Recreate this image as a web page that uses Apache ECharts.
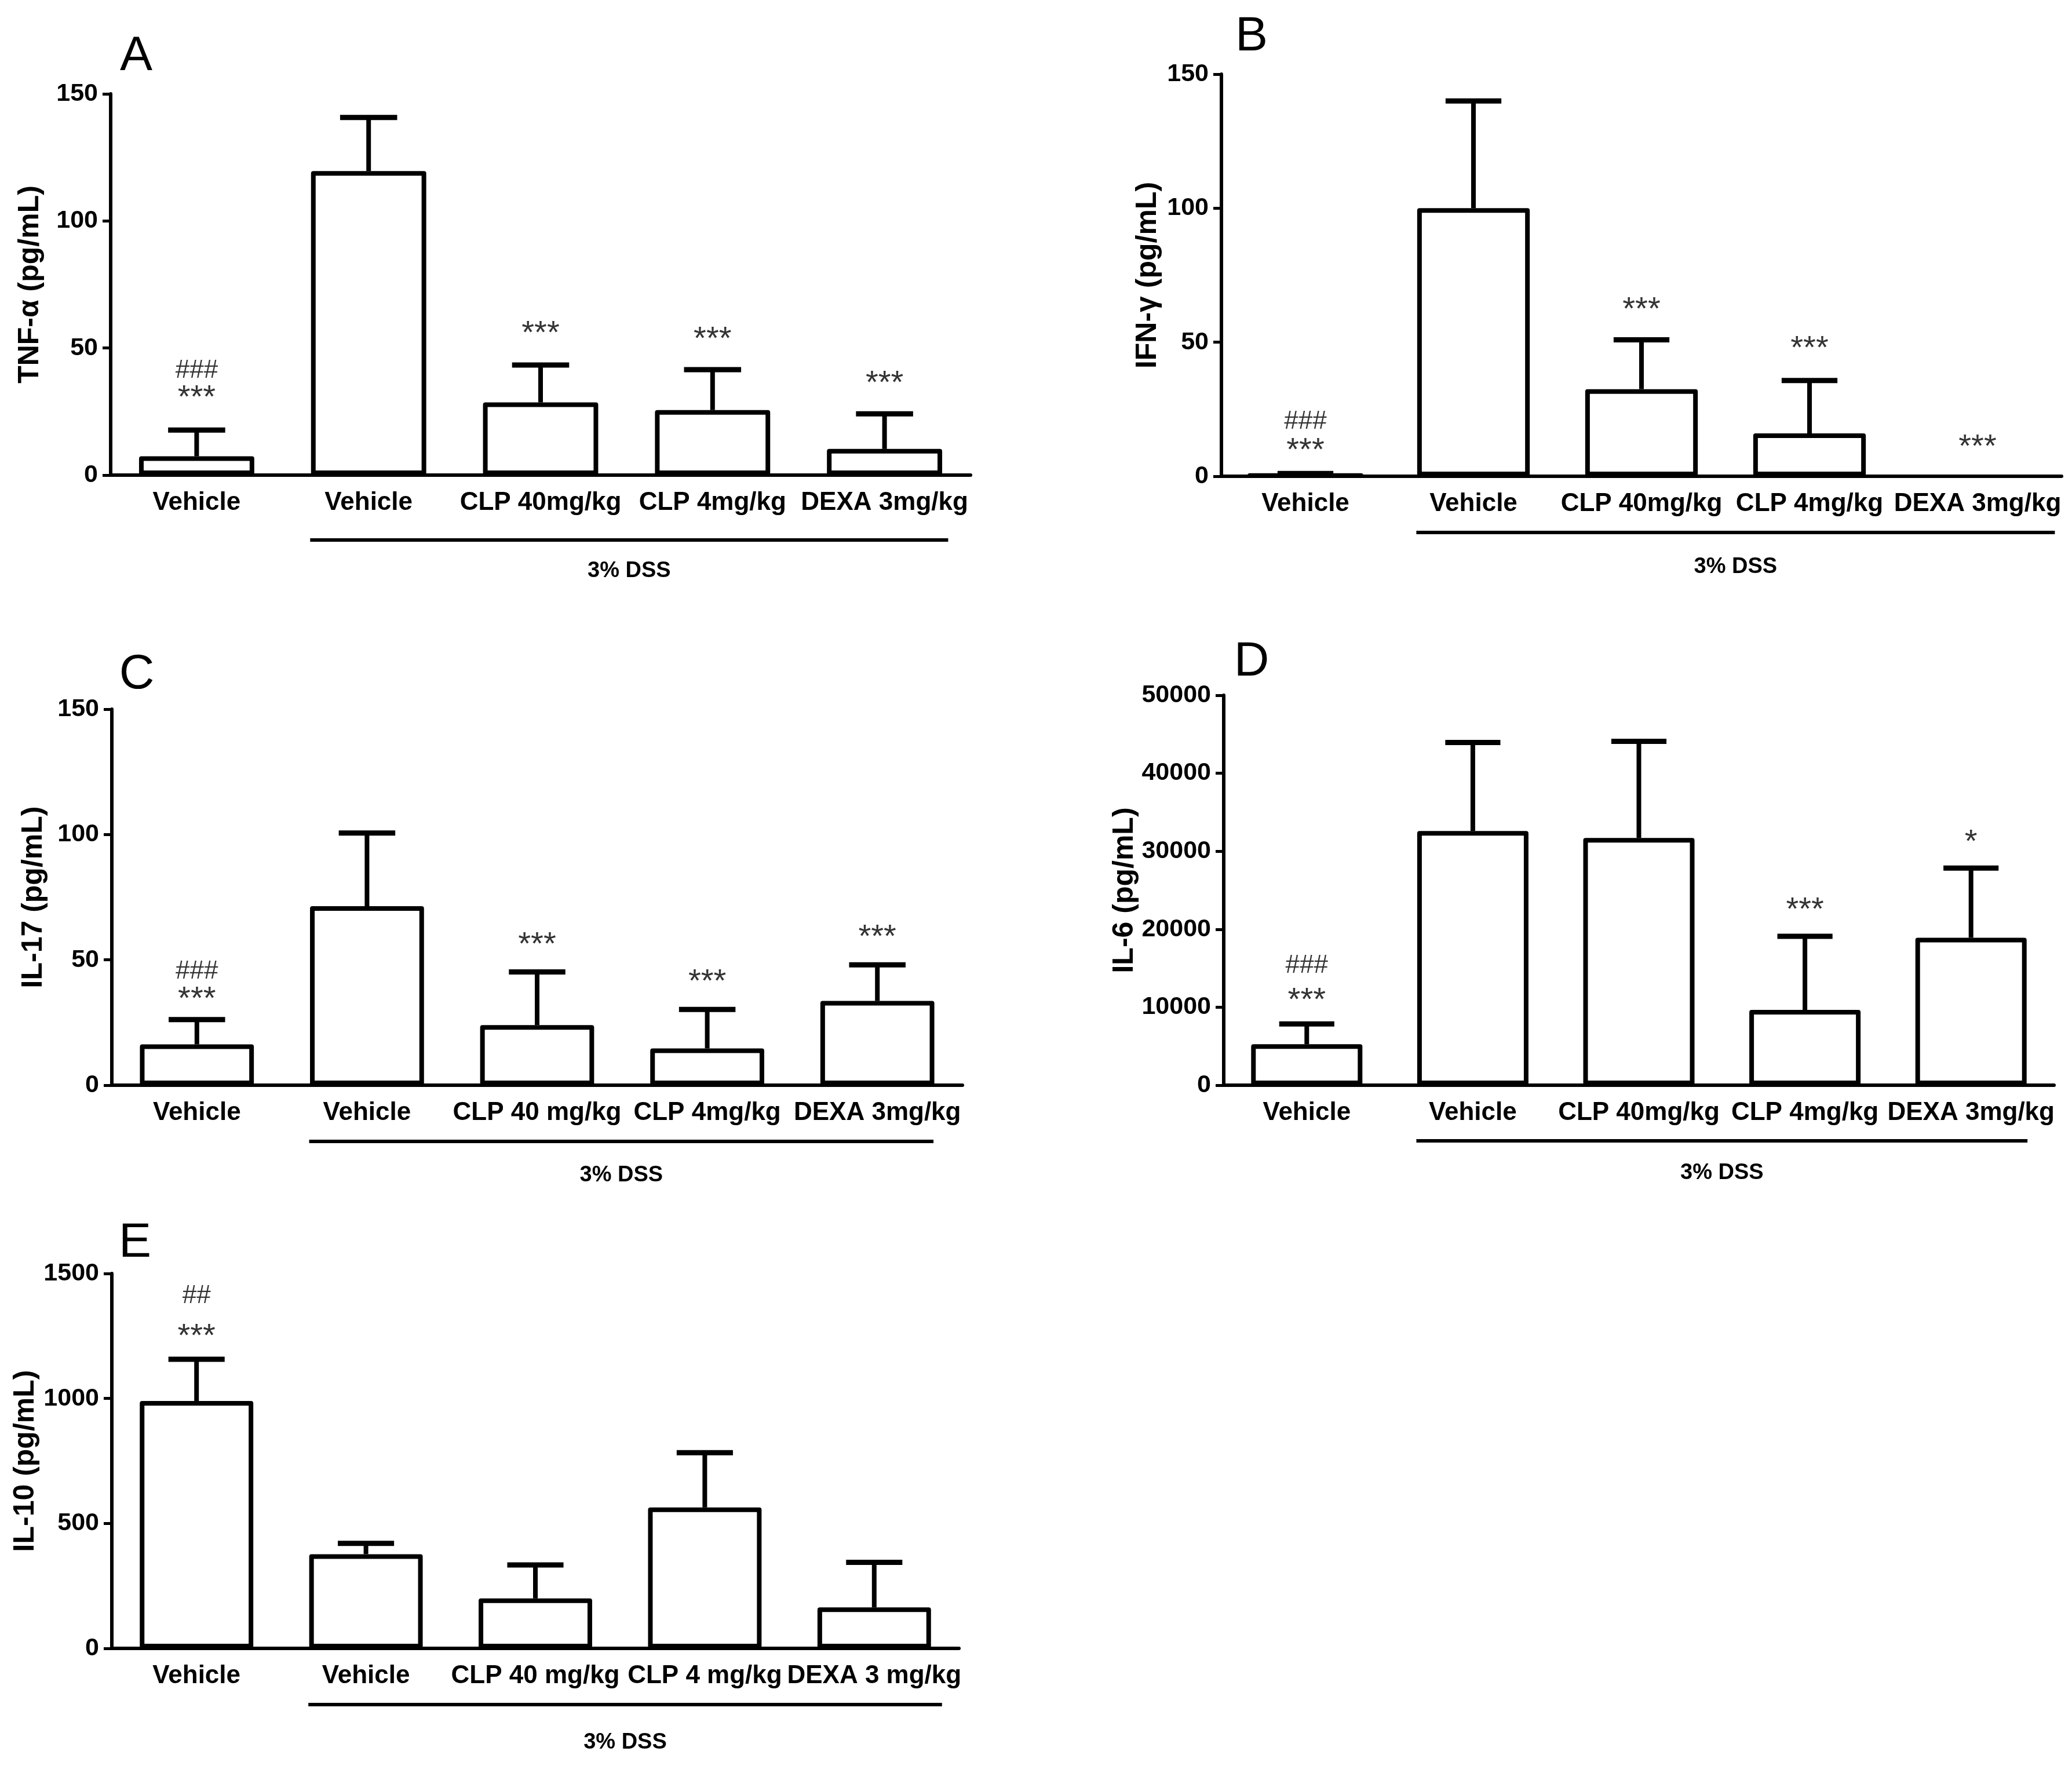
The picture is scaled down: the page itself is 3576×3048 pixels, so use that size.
<!DOCTYPE html>
<html>
<head>
<meta charset="utf-8">
<title>Cytokines</title>
<script src="https://cdn.jsdelivr.net/npm/echarts@6/dist/echarts.min.js"></script>
<style>
  html, body { margin: 0; padding: 0; background: #fff; }
  #chart { width: 3576px; height: 3048px; }
</style>
</head>
<body>
<div id="chart"></div>
<script>
// categories per panel
const catsA = ["Vehicle", "Vehicle", "CLP 40mg/kg", "CLP 4mg/kg", "DEXA 3mg/kg"];
const catsB = ["Vehicle", "Vehicle", "CLP 40mg/kg", "CLP 4mg/kg", "DEXA 3mg/kg"];
const catsC = ["Vehicle", "Vehicle", "CLP 40 mg/kg", "CLP 4mg/kg", "DEXA 3mg/kg"];
const catsD = ["Vehicle", "Vehicle", "CLP 40mg/kg", "CLP 4mg/kg", "DEXA 3mg/kg"];
const catsE = ["Vehicle", "Vehicle", "CLP 40 mg/kg", "CLP 4 mg/kg", "DEXA 3 mg/kg"];

// means and top of error bar (mean + SEM)
const tnfMean = [7.4, 119.6, 28.6, 25.6, 10.3];
const tnfUpper = [17.7, 140.7, 43.3, 41.5, 24.1];
const ifnMean = [0.5, 100, 32.5, 16, null];
const ifnUpper = [1, 140, 50.9, 35.7, null];
const il17Mean = [16.3, 71.4, 24.0, 14.7, 33.6];
const il17Upper = [26.2, 100.6, 45.2, 30.2, 48.0];
const il6Mean = [5250, 32600, 31700, 9650, 18900];
const il6Upper = [7850, 43950, 44100, 19100, 27850];
const il10Mean = [990, 377, 200, 564, 164];
const il10Upper = [1157, 420, 334, 783, 344];

// significance marks: text, category index, height
const tnfSigText = ["###", "***", "***", "***", "***"];
const tnfSigCat = [0, 0, 2, 3, 4];
const tnfSigY = [43.3, 32.4, 57.8, 55.6, 38.2];
const ifnSigText = ["###", "***", "***", "***", "***"];
const ifnSigCat = [0, 0, 2, 3, 4];
const ifnSigY = [22.5, 11.5, 64, 49.5, 12.9];
const il17SigText = ["###", "***", "***", "***", "***"];
const il17SigCat = [0, 0, 2, 3, 4];
const il17SigY = [47.7, 36.3, 58.1, 43.3, 61.1];
const il6SigText = ["###", "***", "***", "*"];
const il6SigCat = [0, 0, 3, 4];
const il6SigY = [16060, 11530, 23160, 31830];
const il10SigText = ["##", "***"];
const il10SigCat = [0, 0];
const il10SigY = [1432, 1270];

// y axis ticks
const ticks150 = [0, 50, 100, 150];
const ticksIl6 = [0, 10000, 20000, 30000, 40000, 50000];
const ticksIl10 = [0, 500, 1000, 1500];

const FONT = "Liberation Sans";

const panels = [
  { letter: "A", title: "TNF-α (pg/mL)", cats: catsA, mean: tnfMean, upper: tnfUpper,
    sigText: tnfSigText, sigCat: tnfSigCat, sigY: tnfSigY, ticks: ticks150,
    grid: { left: 191, top: 162, width: 1484, height: 658 }, nameGap: 114,
    letterPos: [235, 98], dssLine: 112, dssText: 166, dssEnd: 0.37 },
  { letter: "B", title: "IFN-γ (pg/mL)", cats: catsB, mean: ifnMean, upper: ifnUpper,
    sigText: ifnSigText, sigCat: ifnSigCat, sigY: ifnSigY, ticks: ticks150,
    grid: { left: 2108, top: 128, width: 1450, height: 694 }, nameGap: 102,
    letterPos: [2160, 64], dssLine: 97, dssText: 157, dssEnd: 0.46 },
  { letter: "C", title: "IL-17 (pg/mL)", cats: catsC, mean: il17Mean, upper: il17Upper,
    sigText: il17SigText, sigCat: il17SigCat, sigY: il17SigY, ticks: ticks150,
    grid: { left: 193, top: 1224, width: 1468, height: 649 }, nameGap: 110,
    letterPos: [236, 1165], dssLine: 97, dssText: 156, dssEnd: 0.33 },
  { letter: "D", title: "IL-6 (pg/mL)", cats: catsD, mean: il6Mean, upper: il6Upper,
    sigText: il6SigText, sigCat: il6SigCat, sigY: il6SigY, ticks: ticksIl6,
    grid: { left: 2112, top: 1200, width: 1433, height: 673 }, nameGap: 142,
    letterPos: [2160, 1143], dssLine: 96, dssText: 152, dssEnd: 0.34 },
  { letter: "E", title: "IL-10 (pg/mL)", cats: catsE, mean: il10Mean, upper: il10Upper,
    sigText: il10SigText, sigCat: il10SigCat, sigY: il10SigY, ticks: ticksIl10,
    grid: { left: 193, top: 2198, width: 1462, height: 647 }, nameGap: 124,
    letterPos: [233, 2146], dssLine: 97, dssText: 163, dssEnd: 0.40 },
];

function errorBarItem(params, api) {
  const base = api.coord([api.value(0), api.value(1)]);
  const top = api.coord([api.value(0), api.value(2)]);
  const half = api.size([1, 0])[0] * 0.166;
  return {
    type: "group",
    children: [
      { type: "line", shape: { x1: base[0], y1: base[1], x2: base[0], y2: top[1] },
        style: { stroke: "#000", lineWidth: 8 } },
      { type: "line", shape: { x1: base[0] - half, y1: top[1], x2: base[0] + half, y2: top[1] },
        style: { stroke: "#000", lineWidth: 9 } },
    ],
  };
}

// asterisks are drawn a bit bigger than the hash marks
function sigLabel(d) {
  const t = d.data[2];
  return t.charAt(0) === "#" ? "{h|" + t + "}" : "{s|" + t + "}";
}

const grids = [], xAxes = [], yAxes = [], series = [];
panels.forEach((p, i) => {
  grids.push(p.grid);
  xAxes.push({
    type: "category", gridIndex: i, data: p.cats,
    axisLine: { lineStyle: { color: "#000", width: 6 } },
    axisTick: { alignWithLabel: true, length: 15, lineStyle: { width: 7, color: "#000" } },
    axisLabel: { color: "#000", fontFamily: FONT, fontWeight: "bold", fontSize: 44, margin: 26, interval: 0 },
  });
  const step = p.ticks[1] - p.ticks[0];
  yAxes.push({
    type: "value", gridIndex: i,
    min: p.ticks[0], max: p.ticks[p.ticks.length - 1], interval: step,
    name: p.title, nameLocation: "middle", nameRotate: 90, nameGap: p.nameGap,
    nameTextStyle: { color: "#000", fontFamily: FONT, fontWeight: "bold", fontSize: 50 },
    splitLine: { show: false },
    axisLine: { show: true, lineStyle: { color: "#000", width: 6 } },
    axisTick: { show: true, length: 14, lineStyle: { width: 5, color: "#000" } },
    axisLabel: { color: "#000", fontFamily: FONT, fontWeight: "bold", fontSize: 43, margin: 22,
      formatter: v => String(v) },
  });
  series.push({
    type: "bar", xAxisIndex: i, yAxisIndex: i,
    data: p.mean,
    barCategoryGap: "33%",
    itemStyle: { color: "#fff", borderColor: "#000", borderWidth: 8, borderJoin: "round" },
    silent: true,
  });
  series.push({
    type: "custom", xAxisIndex: i, yAxisIndex: i,
    renderItem: errorBarItem,
    data: p.mean.map((m, k) => [k, m, p.upper[k]]).filter(d => d[1] != null),
    z: 3, silent: true,
  });
  series.push({
    type: "scatter", xAxisIndex: i, yAxisIndex: i,
    symbolSize: 0,
    itemStyle: { color: "rgba(0,0,0,0)" },
    data: p.sigText.map((t, k) => [p.sigCat[k], p.sigY[k], t]),
    label: {
      show: true, position: "inside", formatter: sigLabel, offset: [0, 10],
      rich: {
        s: { color: "#000", fontFamily: FONT, fontSize: 56 },
        h: { color: "#000", fontFamily: FONT, fontSize: 44 },
      },
    },
    silent: true,
  });
});

const chart = echarts.init(document.getElementById("chart"), null, { renderer: "canvas" });
chart.setOption({
  animation: false,
  backgroundColor: "#fff",
  grid: grids, xAxis: xAxes, yAxis: yAxes, series: series,
});

// panel letters and the "3% DSS" bracket under categories 1-4
const graphics = [];
panels.forEach((p, i) => {
  graphics.push({
    type: "text", x: p.letterPos[0], y: p.letterPos[1],
    style: { text: p.letter, fill: "#000", font: "84px " + FONT, textAlign: "center", textVerticalAlign: "middle" },
  });
  const c1 = chart.convertToPixel({ xAxisIndex: i, yAxisIndex: i }, [1, 0]);
  const c4 = chart.convertToPixel({ xAxisIndex: i, yAxisIndex: i }, [4, 0]);
  const cw = (c4[0] - c1[0]) / 3;
  const x1 = c1[0] - cw * 0.34, x2 = c4[0] + cw * p.dssEnd;
  const yl = c1[1] + p.dssLine;
  graphics.push({
    type: "line", shape: { x1: x1, y1: yl, x2: x2, y2: yl },
    style: { stroke: "#000", lineWidth: 6 },
  });
  graphics.push({
    type: "text", x: (x1 + x2) / 2, y: c1[1] + p.dssText,
    style: { text: "3% DSS", fill: "#000", font: "bold 38px " + FONT, textAlign: "center", textVerticalAlign: "middle" },
  });
});
chart.setOption({ graphic: graphics });
</script>
</body>
</html>
